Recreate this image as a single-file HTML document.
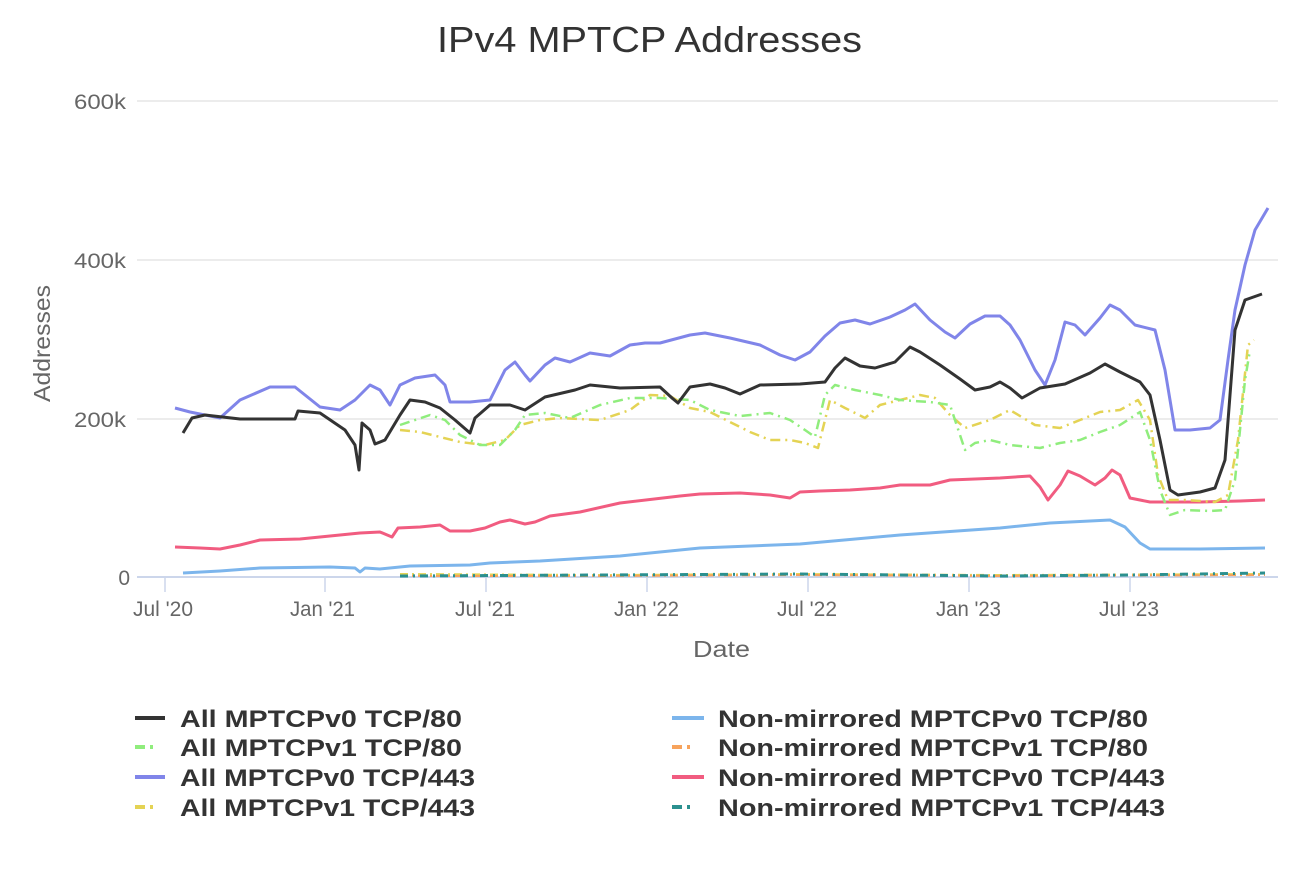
<!DOCTYPE html><html><head><style>body{margin:0;background:#fff}</style></head><body>
<svg width="1300" height="866" xmlns="http://www.w3.org/2000/svg" font-family="Liberation Sans, sans-serif">
<rect width="1300" height="866" fill="#fff"/>
<text x="437" y="52" font-size="36" fill="#333" textLength="425" lengthAdjust="spacingAndGlyphs">IPv4 MPTCP Addresses</text>
<g stroke="#e6e6e6" stroke-width="1.5">
<line x1="137" x2="1278" y1="101" y2="101"/><line x1="137" x2="1278" y1="260" y2="260"/><line x1="137" x2="1278" y1="419" y2="419"/></g>
<line x1="137" x2="1278" y1="577" y2="577" stroke="#ccd6eb" stroke-width="2"/>
<g stroke="#ccd6eb" stroke-width="1.5"><line x1="165" x2="165" y1="577" y2="592"/><line x1="325" x2="325" y1="577" y2="592"/><line x1="486" x2="486" y1="577" y2="592"/><line x1="647" x2="647" y1="577" y2="592"/><line x1="808" x2="808" y1="577" y2="592"/><line x1="969" x2="969" y1="577" y2="592"/><line x1="1130" x2="1130" y1="577" y2="592"/></g>
<g font-size="21" fill="#666" text-anchor="end"><text x="126" y="109" textLength="52" lengthAdjust="spacingAndGlyphs">600k</text><text x="126" y="268" textLength="52" lengthAdjust="spacingAndGlyphs">400k</text><text x="126" y="427" textLength="52" lengthAdjust="spacingAndGlyphs">200k</text><text x="130" y="585">0</text></g>
<g font-size="21" fill="#666"><text x="133" y="616" textLength="60" lengthAdjust="spacingAndGlyphs">Jul '20</text><text x="290" y="616" textLength="65" lengthAdjust="spacingAndGlyphs">Jan '21</text><text x="455" y="616" textLength="60" lengthAdjust="spacingAndGlyphs">Jul '21</text><text x="614" y="616" textLength="65" lengthAdjust="spacingAndGlyphs">Jan '22</text><text x="777" y="616" textLength="60" lengthAdjust="spacingAndGlyphs">Jul '22</text><text x="936" y="616" textLength="65" lengthAdjust="spacingAndGlyphs">Jan '23</text><text x="1099" y="616" textLength="60" lengthAdjust="spacingAndGlyphs">Jul '23</text></g>
<text x="693" y="657" font-size="23" fill="#666" textLength="57" lengthAdjust="spacingAndGlyphs">Date</text>
<text transform="translate(50,402) rotate(-90)" font-size="23" fill="#666" textLength="117" lengthAdjust="spacingAndGlyphs">Addresses</text>
<g fill="none" stroke-width="3" stroke-linejoin="round">
<polyline stroke="#e4d354" stroke-width="2" stroke-dasharray="8,4,2,4" points="400,574 600,575 800,574 1000,575 1265,574"/>
<polyline stroke="#f7a35c" stroke-width="2" stroke-dasharray="8,4,2,4" points="400,576 600,576 800,575 1000,576 1265,575"/>
<polyline stroke="#2b908f" stroke-width="3" stroke-dasharray="8,5,2,5" points="400,576 600,575 800,574 1000,576 1130,575 1265,573"/>
<polyline stroke="#7cb5ec" points="183,573 220,571 260,568 330,567 355,568 360,572 365,568 380,569 410,566 470,565 490,563 540,561 620,556 700,548 800,544 900,535 1000,528 1050,523 1110,520 1125,527 1140,543 1150,549 1200,549 1265,548"/>
<polyline stroke="#f15c80" points="175,547 200,548 220,549 240,545 260,540 300,539 330,536 360,533 380,532 392,537 398,528 420,527 440,525 450,531 470,531 485,528 500,522 510,520 525,524 535,522 550,516 580,512 620,503 680,496 700,494 740,493 770,495 790,498 800,492 820,491 850,490 880,488 900,485 930,485 950,480 1000,478 1030,476 1040,487 1048,500 1060,485 1068,471 1080,476 1095,485 1105,478 1112,470 1120,475 1130,498 1150,502 1200,502 1240,501 1265,500"/>
<polyline stroke="#e4d354" stroke-width="2.5" stroke-dasharray="10,5,2,5" points="400,430 420,432 440,437 460,442 485,445 505,440 520,425 540,420 560,418 600,420 630,410 650,395 670,396 690,408 710,412 730,422 750,432 770,440 790,440 805,443 818,448 830,400 845,408 865,418 880,405 900,400 920,395 935,398 950,415 965,428 990,420 1010,410 1035,425 1060,428 1080,420 1100,412 1120,410 1138,400 1150,420 1158,475 1168,500 1185,500 1215,502 1228,495 1238,440 1248,345 1254,340"/>
<polyline stroke="#90ed7d" stroke-width="2.5" stroke-dasharray="10,5,2,5" points="400,425 430,415 445,420 460,435 480,445 500,445 515,430 525,415 545,413 570,418 600,405 630,398 660,398 690,400 710,410 740,416 770,413 790,420 805,430 815,437 825,395 835,385 855,390 880,395 900,400 930,402 950,405 965,450 975,443 990,440 1010,445 1040,448 1060,443 1080,440 1100,432 1120,425 1140,412 1150,440 1160,490 1170,515 1185,510 1210,511 1225,510 1235,480 1245,380 1250,350"/>
<polyline stroke="#8085e9" points="175,408 190,412 220,418 240,400 270,387 295,387 305,395 320,407 340,410 355,400 370,385 380,390 390,405 400,385 415,378 435,375 445,385 450,402 470,402 490,400 505,370 515,362 525,375 530,381 545,365 555,358 570,362 590,353 610,356 630,345 645,343 660,343 690,335 705,333 730,338 760,345 780,355 795,360 810,352 825,336 840,323 855,320 870,324 890,317 905,310 915,304 930,320 945,332 955,338 970,324 985,316 1000,316 1010,325 1020,340 1035,370 1045,385 1055,360 1065,322 1075,325 1085,335 1100,318 1110,305 1120,310 1135,325 1155,330 1165,370 1175,430 1190,430 1210,428 1220,420 1228,360 1235,310 1245,265 1255,230 1268,208"/>
<polyline stroke="#333" points="183,433 192,418 205,415 240,419 295,419 298,411 320,413 345,430 355,445 359,470 362,423 370,430 375,444 385,440 400,415 410,400 425,402 440,408 455,420 470,433 475,418 490,405 510,405 525,410 545,397 575,390 590,385 620,388 660,387 672,398 678,403 690,387 710,384 725,388 740,394 760,385 800,384 825,382 835,368 845,358 860,366 875,368 895,362 910,347 920,352 940,365 960,379 975,390 990,387 1000,382 1010,388 1022,398 1040,388 1065,384 1090,373 1105,364 1120,372 1140,382 1150,395 1160,440 1170,490 1178,495 1200,492 1215,488 1225,460 1235,330 1245,300 1262,294"/>
</g>
<g stroke-width="4">
<line x1="135" x2="165" y1="718" y2="718" stroke="#333"/>
<line x1="135" x2="165" y1="747" y2="747" stroke="#90ed7d" stroke-dasharray="10,5,3,20"/>
<line x1="135" x2="165" y1="777" y2="777" stroke="#8085e9"/>
<line x1="135" x2="165" y1="807" y2="807" stroke="#e4d354" stroke-dasharray="10,5,3,20"/>
<line x1="672" x2="704" y1="718" y2="718" stroke="#7cb5ec"/>
<line x1="672" x2="704" y1="747" y2="747" stroke="#f7a35c" stroke-dasharray="10,5,3,20"/>
<line x1="672" x2="704" y1="777" y2="777" stroke="#f15c80"/>
<line x1="672" x2="704" y1="807" y2="807" stroke="#2b908f" stroke-dasharray="10,5,3,20"/>
</g>
<g font-size="24" font-weight="bold" fill="#333" lengthAdjust="spacingAndGlyphs">
<text x="180" y="727" textLength="282" lengthAdjust="spacingAndGlyphs">All MPTCPv0 TCP/80</text><text x="180" y="756" textLength="282" lengthAdjust="spacingAndGlyphs">All MPTCPv1 TCP/80</text><text x="180" y="786" textLength="295" lengthAdjust="spacingAndGlyphs">All MPTCPv0 TCP/443</text><text x="180" y="816" textLength="295" lengthAdjust="spacingAndGlyphs">All MPTCPv1 TCP/443</text>
<text x="718" y="727" textLength="430" lengthAdjust="spacingAndGlyphs">Non-mirrored MPTCPv0 TCP/80</text><text x="718" y="756" textLength="430" lengthAdjust="spacingAndGlyphs">Non-mirrored MPTCPv1 TCP/80</text><text x="718" y="786" textLength="447" lengthAdjust="spacingAndGlyphs">Non-mirrored MPTCPv0 TCP/443</text><text x="718" y="816" textLength="447" lengthAdjust="spacingAndGlyphs">Non-mirrored MPTCPv1 TCP/443</text>
</g>
</svg></body></html>
